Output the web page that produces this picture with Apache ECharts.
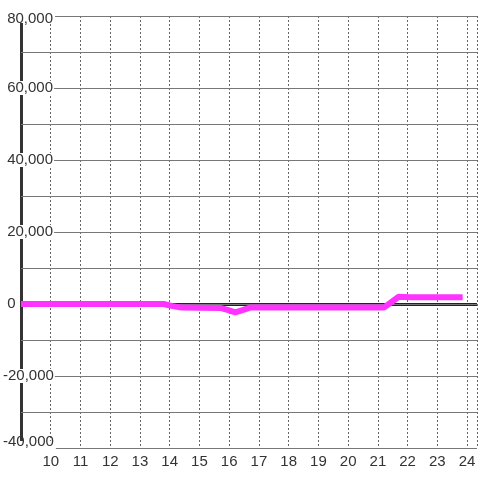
<!DOCTYPE html>
<head>
    <meta charset="utf-8">
    <title>Line chart</title>
    <style>
        html, body {
            width: 100%;
            height: 100%;
            margin: 0;
            background: #fff;
        }
        #main {
            width: 480px;
            height: 480px;
        }
    </style>
</head>
<body>
<div id="main"></div>
<script src="https://cdn.jsdelivr.net/npm/echarts@6/dist/echarts.min.js"></script>
<script type="text/javascript">
  // values
  var xValues = [9, 13.8, 14.1, 14.4, 15.7, 16.0, 16.2, 16.45, 16.7, 21.2, 21.45, 21.7, 22.1, 23.85];
  var yValues = [0, 0, -600, -1000, -1100, -1800, -2300, -1700, -1000, -1000, 500, 2000, 1900, 1900];
  var yMin = -40000, yMax = 80000, yStep = 10000, yLabelStep = 20000;
  var xMin = 9, xMax = 24.333;

  var lineData = [];
  for (var i = 0; i < xValues.length; i++) {
    lineData.push([xValues[i], yValues[i]]);
  }

  var myChart = echarts.init(document.getElementById('main'));
  var font = 'Liberation Sans, Arial, sans-serif';

  var option = {
    animation: false,
    grid: {left: 20, right: 0, top: 16, bottom: 32},
    xAxis: {
      type: 'value',
      min: xMin,
      max: xMax,
      interval: 1,
      axisLine: {show: false},
      axisTick: {show: false},
      axisLabel: {
        margin: 6,
        color: '#333',
        fontSize: 15,
        fontFamily: font,
        formatter: function (v) {
          return (v > xMin && Math.round(v) === v) ? String(v) : '';
        }
      },
      splitLine: {
        show: true,
        lineStyle: {color: '#666', width: 1, type: [2, 2]}
      }
    },
    yAxis: {
      type: 'value',
      z: 4,
      min: yMin,
      max: yMax,
      interval: yStep,
      axisLine: {show: false},
      axisTick: {show: false},
      splitLine: {
        show: true,
        lineStyle: {color: '#777', width: 1}
      },
      axisLabel: {
        margin: 18,
        align: 'left',
        verticalAlign: 'middle',
        color: '#333',
        fontSize: 15,
        lineHeight: 14,
        fontFamily: font,
        backgroundColor: '#fff',
        padding: [0, 1, 0, 0],
        formatter: function (v) {
          if (v % yLabelStep !== 0) return '';
          var s = Math.abs(v).toLocaleString('en-US');
          s = (v < 0 ? '-' : ' ') + s;
          if (v === yMin) return '{low|' + s + '}';
          if (v === yMax) return '{high|' + s + '}';
          return s;
        },
        rich: {
          low: {
            color: '#333',
            fontSize: 15,
            fontFamily: font,
            lineHeight: 14,
            padding: [0, 1, 12, 0]
          },
          high: {
            color: '#333',
            fontSize: 15,
            fontFamily: font,
            lineHeight: 14,
            padding: [6, 1, 0, 0]
          }
        }
      }
    },
    series: [
      {
        // zero line and the thick left axis line
        type: 'line',
        data: [],
        z: 1,
        markLine: {
          silent: true,
          z: 1,
          symbol: 'none',
          label: {show: false},
          lineStyle: {color: '#333', width: 3, type: 'solid'},
          data: [
            {yAxis: 0, lineStyle: {color: '#222', width: 3, type: 'solid'}},
            {xAxis: xMin, lineStyle: {color: '#333', width: 3, type: 'solid'}}
          ]
        }
      },
      {
        type: 'line',
        z: 6,
        showSymbol: false,
        data: lineData,
        lineStyle: {color: '#ff33ff', width: 6},
        itemStyle: {color: '#ff33ff'}
      }
    ]
  };
  myChart.setOption(option);
</script>
</body>
